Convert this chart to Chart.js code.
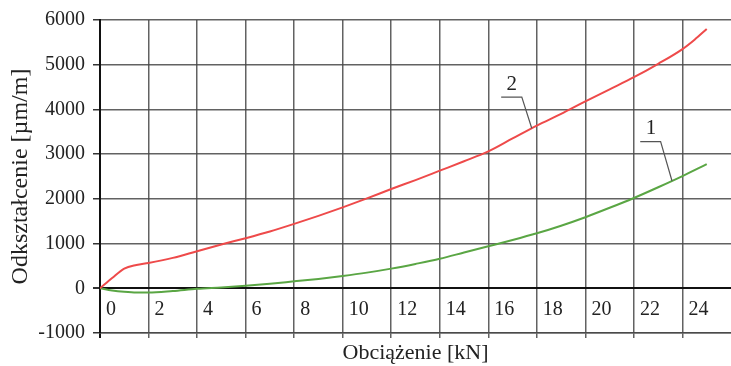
<!DOCTYPE html>
<html>
<head>
<meta charset="utf-8">
<script src="https://cdn.jsdelivr.net/npm/chart.js@4"></script>
<style>
  html, body { margin: 0; padding: 0; background: #fff; }
  #wrap { width: 731px; height: 366px; }
</style>
</head>
<body>
<div id="wrap"><canvas id="chart"></canvas></div>
<script>
// curve 2 (red)
const load2 = [0, 0.5, 1, 1.5, 2, 3, 4, 5, 6, 7, 8, 9, 10, 11, 12, 13, 14, 15, 16, 17, 18, 19, 20, 21, 22, 23, 24, 24.5, 25];
const strain2 = [0, 230, 440, 520, 565, 680, 830, 980, 1120, 1270, 1440, 1620, 1810, 2010, 2220, 2420, 2630, 2840, 3060, 3350, 3640, 3900, 4180, 4450, 4720, 5020, 5350, 5560, 5800];
// curve 1 (green)
const load1 = [0, 0.5, 1, 1.5, 2, 3, 4, 5, 6, 7, 8, 9, 10, 11, 12, 13, 14, 15, 16, 17, 18, 19, 20, 21, 22, 23, 24, 25];
const strain1 = [0, -50, -80, -95, -95, -60, -10, 20, 55, 100, 155, 210, 275, 350, 440, 545, 660, 800, 940, 1080, 1230, 1400, 1590, 1800, 2020, 2260, 2510, 2775];

const xTicks = [0, 2, 4, 6, 8, 10, 12, 14, 16, 18, 20, 22, 24];
const xGrid = [0, 2, 4, 6, 8, 10, 12, 14, 16, 18, 20, 22, 24, 26];
const yTicks = [-1000, 0, 1000, 2000, 3000, 4000, 5000, 6000];

// curve numbers with their leader lines, in data units
const curveLabels = [
  { text: '2', at: [16.97, 4560], leader: [[16.53, 4276], [17.38, 4276], [17.79, 3580]] },
  { text: '1', at: [22.7, 3585], leader: [[22.26, 3280], [23.1, 3280], [23.57, 2400]] }
];

const serif = 'Liberation Serif, DejaVu Serif, serif';
const gridGray = 'rgba(70,70,70,0.85)';

const pts = (xs, ys) => xs.map((x, i) => ({ x: x, y: ys[i] }));

const curveLabelPlugin = {
  id: 'curveLabels',
  afterDatasetsDraw(chart) {
    const ctx = chart.ctx;
    const sx = chart.scales.x, sy = chart.scales.y;
    ctx.save();
    curveLabels.forEach(l => {
      ctx.strokeStyle = '#555';
      ctx.lineWidth = 1.2;
      ctx.beginPath();
      l.leader.forEach((p, i) => {
        const px = sx.getPixelForValue(p[0]), py = sy.getPixelForValue(p[1]);
        if (i === 0) ctx.moveTo(px, py); else ctx.lineTo(px, py);
      });
      ctx.stroke();
      ctx.fillStyle = '#222';
      ctx.font = '21px ' + serif;
      ctx.textAlign = 'center';
      ctx.textBaseline = 'middle';
      ctx.fillText(l.text, sx.getPixelForValue(l.at[0]), sy.getPixelForValue(l.at[1]));
    });
    ctx.restore();
  }
};

new Chart(document.getElementById('chart').getContext('2d'), {
  type: 'line',
  data: {
    datasets: [
      {
        label: '2',
        data: pts(load2, strain2),
        borderColor: '#ee4a4a',
        borderWidth: 2,
        pointRadius: 0,
        cubicInterpolationMode: 'monotone'
      },
      {
        label: '1',
        data: pts(load1, strain1),
        borderColor: '#5aa644',
        borderWidth: 2,
        pointRadius: 0,
        cubicInterpolationMode: 'monotone'
      }
    ]
  },
  options: {
    responsive: true,
    maintainAspectRatio: false,
    animation: false,
    layout: { padding: { top: 19, right: 0, left: 0, bottom: 0 } },
    plugins: { legend: { display: false }, tooltip: { enabled: false } },
    scales: {
      x: {
        type: 'linear',
        min: 0, max: 26,
        afterBuildTicks: s => { s.ticks = xGrid.map(v => ({ value: v })); },
        grid: {
          color: c => c.tick.value === 0 ? '#111' : (c.tick.value === 26 ? 'rgba(0,0,0,0)' : gridGray),
          lineWidth: c => c.tick.value === 0 ? 2 : 1.5,
          tickLength: 5
        },
        border: { display: true, color: gridGray, width: 1.5 },
        ticks: { display: false },
        title: {
          display: true, text: 'Obciążenie [kN]', color: '#222',
          font: { family: serif, size: 22 }, padding: { top: 0, bottom: 0 }
        },
        afterFit: s => { s.height = 33; }
      },
      x2: {
        type: 'linear',
        min: 0, max: 26,
        position: { y: 0 },
        afterBuildTicks: s => { s.ticks = xTicks.map(v => ({ value: v })); },
        grid: { display: false, drawTicks: false },
        border: { display: false },
        ticks: {
          color: '#222', font: { family: serif, size: 20 },
          align: 'start', labelOffset: 6, padding: 9
        }
      },
      y: {
        min: -1000, max: 6000,
        afterBuildTicks: s => { s.ticks = yTicks.map(v => ({ value: v })); },
        grid: {
          color: c => c.tick.value === 0 ? '#111' : gridGray,
          lineWidth: c => c.tick.value === 0 ? 2 : 1.5,
          tickLength: 7,
          tickColor: '#333'
        },
        border: { display: true, color: '#111', width: 2 },
        ticks: {
          color: '#222', font: { family: serif, size: 20 }, padding: 8,
          callback: v => String(v)
        },
        title: {
          display: true, text: 'Odkształcenie [µm/m]', color: '#222',
          font: { family: serif, size: 24 }, padding: { top: 6, bottom: 0 }
        },
        afterFit: s => { s.width = 100; }
      }
    }
  },
  plugins: [curveLabelPlugin]
});
</script>
</body>
</html>
